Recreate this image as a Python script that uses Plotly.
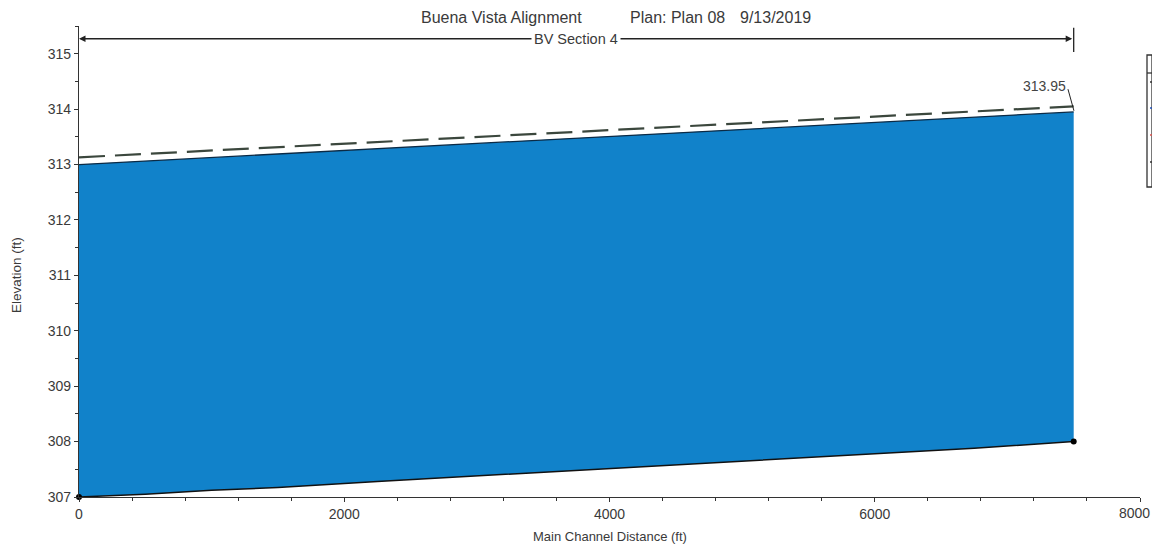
import plotly.graph_objects as go

# Profile data (main channel distance in ft, elevations in ft)
ground_sta = [0, 500, 1000, 1500, 2250, 3000, 3750, 4500, 5250, 6000, 6750, 7500]
ground_elev = [307.0, 307.05, 307.12, 307.17, 307.28, 307.38, 307.48, 307.58, 307.68, 307.78, 307.88, 308.0]

ws_sta = [0, 7500]
ws_elev = [313.0, 313.95]

egl_sta = [0, 7500]
egl_elev = [313.13, 314.05]

x_ticks = [0, 2000, 4000, 6000, 8000]
y_ticks = [307, 308, 309, 310, 311, 312, 313, 314, 315]

water_blue = "#1182CA"
font_family = "Liberation Sans, Arial, sans-serif"
text_color = "#3a3a3a"

# plot area in page pixels (page has an 8px body margin)
PL, PT, PW, PH = 79, 26, 1061, 471
FIG_W, FIG_H = 1144, 538


def px(x):
    return (x - PL) / PW


def py(y):
    return (PT + PH - y) / PH


fig = go.Figure()

# Ground line (base for the water fill)
fig.add_trace(go.Scatter(x=ground_sta, y=ground_elev, mode='lines', line=dict(color='#111', width=1.5),
                         showlegend=False))
# Water surface, filled down to the ground
ws_at_ground = [ws_elev[0] + (ws_elev[1] - ws_elev[0]) * s / ws_sta[1] for s in ground_sta]
fig.add_trace(go.Scatter(x=ground_sta, y=ws_at_ground, mode='lines', line=dict(color='#0b2a45', width=1.3),
                         fill='tonexty', fillcolor=water_blue, showlegend=False))
# Energy grade line
fig.add_trace(go.Scatter(x=egl_sta, y=egl_elev, mode='lines',
                         line=dict(color='#3b473d', width=2.2, dash='26px,10px'), showlegend=False))
# End markers on the ground
fig.add_trace(go.Scatter(x=[ground_sta[0], ground_sta[-1]], y=[ground_elev[0], ground_elev[-1]], mode='markers',
                         marker=dict(color='black', size=6), showlegend=False, cliponaxis=False))

# Reach extents arrow
fig.add_annotation(x=0, y=315.27, ax=7500, ay=315.27, xref='x', yref='y', axref='x', ayref='y',
                   text='', showarrow=True, arrowhead=2, arrowside='end+start', arrowsize=1,
                   arrowwidth=1.3, arrowcolor='#222')
fig.add_annotation(x=3747, y=315.27, text='BV Section 4', showarrow=False, bgcolor='white',
                   font=dict(family=font_family, size=14.5, color=text_color), borderpad=2)
fig.add_shape(type='line', x0=7500, x1=7500, y0=315.03, y1=315.47, line=dict(color='#222', width=1.3))

# WS label with leader
fig.add_shape(type='line', x0=7457, x1=7502, y0=314.36, y1=313.97, line=dict(color='#222', width=1))
fig.add_annotation(x=7280, y=314.42, text='313.95', showarrow=False,
                   font=dict(family=font_family, size=14, color='#444'))

# Title pieces
for txt, left in [('Buena Vista Alignment', 419), ('Plan: Plan 08', 628), ('9/13/2019', 738)]:
    fig.add_annotation(x=px(left), y=1, xref='paper', yref='paper', xanchor='left', yanchor='middle',
                       yshift=9, text=txt, showarrow=False,
                       font=dict(family=font_family, size=16, color=text_color))

# Axis titles
fig.add_annotation(x=px(610), y=py(536), xref='paper', yref='paper', xanchor='center', yanchor='middle',
                   text='Main Channel Distance (ft)', showarrow=False,
                   font=dict(family=font_family, size=13, color=text_color))
fig.add_annotation(x=px(16), y=py(275), xref='paper', yref='paper', xanchor='center', yanchor='middle',
                   text='Elevation (ft)', textangle=-90, showarrow=False,
                   font=dict(family=font_family, size=13.5, color=text_color))

# last x tick label sits on the figure edge, so it is drawn as an annotation kept inside the figure
fig.add_annotation(x=x_ticks[-1], y=py(513), xref='x', yref='paper', xanchor='right', yanchor='middle',
                   xshift=(8 + FIG_W) - (PL + PW), text=str(x_ticks[-1]), showarrow=False,
                   font=dict(family=font_family, size=14, color=text_color))

# Clipped legend box on the right edge
legend_right = px(8 + FIG_W)
fig.add_shape(type='rect', xref='paper', yref='paper', x0=px(1147), x1=legend_right, y0=py(187), y1=py(55),
              line=dict(color='#333', width=1.3), fillcolor='white')
fig.add_shape(type='line', xref='paper', yref='paper', x0=px(1147), x1=legend_right, y0=py(73), y1=py(73),
              line=dict(color='#333', width=1.3))
legend_marks = [(82, '#333'), (108, '#1f4fb5'), (135, '#d9534f'), (162, '#333')]
for ypix, col in legend_marks:
    fig.add_shape(type='line', xref='paper', yref='paper', x0=px(1150), x1=legend_right, y0=py(ypix), y1=py(ypix),
                  line=dict(color=col, width=1.5))

fig.update_layout(
    width=FIG_W,
    height=FIG_H,
    margin=dict(l=PL - 8, r=FIG_W - (PL - 8) - PW, t=PT - 8, b=FIG_H - (PT - 8) - PH),
    plot_bgcolor='white',
    paper_bgcolor='white',
    font=dict(family=font_family, color=text_color),
    xaxis=dict(range=[0, 8000], tickvals=x_ticks, ticktext=[str(v) for v in x_ticks[:-1]] + [''],
               ticks='outside', ticklen=4, tickcolor='#333',
               showline=True, linecolor='#333', linewidth=1.3, showgrid=False, zeroline=False,
               minor=dict(dtick=400, ticks='outside', ticklen=3, tickcolor='#333'),
               tickfont=dict(size=14, color=text_color)),
    yaxis=dict(range=[307, 315.5], tickvals=y_ticks, ticks='outside', ticklen=4, tickcolor='#333',
               showline=True, linecolor='#333', linewidth=1.3, showgrid=False, zeroline=False,
               minor=dict(dtick=0.5, ticks='outside', ticklen=3, tickcolor='#333'),
               tickfont=dict(size=14, color=text_color)),
)

fig.write_html("out.html")
